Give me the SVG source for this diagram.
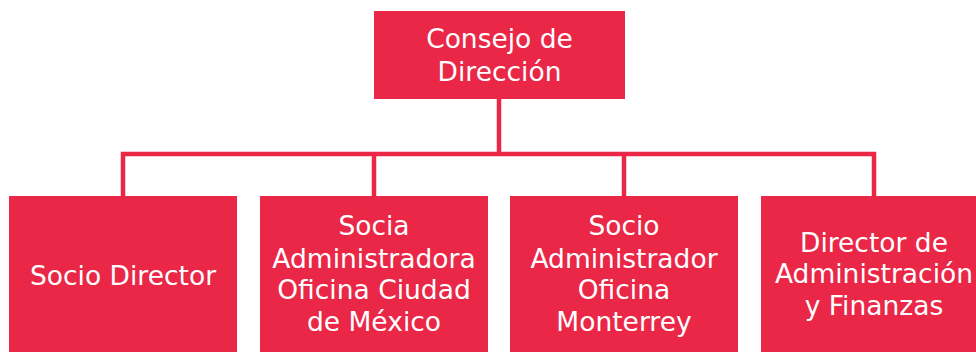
<svg xmlns="http://www.w3.org/2000/svg" width="976" height="352" viewBox="0 0 976 352">
<style>
.box{fill:#EA2747}
.t{font-family:"DejaVu Sans","Verdana",sans-serif;font-size:26.5px;fill:#FFFFFF;text-anchor:middle}
.c{stroke:#EA2747;stroke-width:4.5;fill:none}
</style>
<rect width="976" height="352" fill="#FFFFFF"/>
<g id="connectors">
<path class="c" d="M499,99 V154"/>
<path class="c" d="M123,196 V154 H874 V196"/>
<path class="c" d="M374,154 V196"/>
<path class="c" d="M624,154 V196"/>
</g>
<g id="consejo">
<rect class="box" x="374" y="11" width="251" height="88"/>
<text class="t" x="499.5" y="48">Consejo de</text>
<text class="t" x="499.5" y="81">Dirección</text>
</g>
<g id="socio-director">
<rect class="box" x="9" y="196" width="228" height="156"/>
<text class="t" x="123" y="285">Socio Director</text>
</g>
<g id="socia-cdmx">
<rect class="box" x="260" y="196" width="228" height="156"/>
<text class="t" x="374" y="235">Socia</text>
<text class="t" x="374" y="268">Administradora</text>
<text class="t" x="374" y="299">Oficina Ciudad</text>
<text class="t" x="374" y="331">de México</text>
</g>
<g id="socio-monterrey">
<rect class="box" x="510" y="196" width="228" height="156"/>
<text class="t" x="624" y="235">Socio</text>
<text class="t" x="624" y="268">Administrador</text>
<text class="t" x="624" y="299">Oficina</text>
<text class="t" x="624" y="331">Monterrey</text>
</g>
<g id="director-admin">
<rect class="box" x="761" y="196" width="228" height="156"/>
<text class="t" x="874" y="252">Director de</text>
<text class="t" x="874" y="283">Administración</text>
<text class="t" x="874" y="315">y Finanzas</text>
</g>
</svg>
